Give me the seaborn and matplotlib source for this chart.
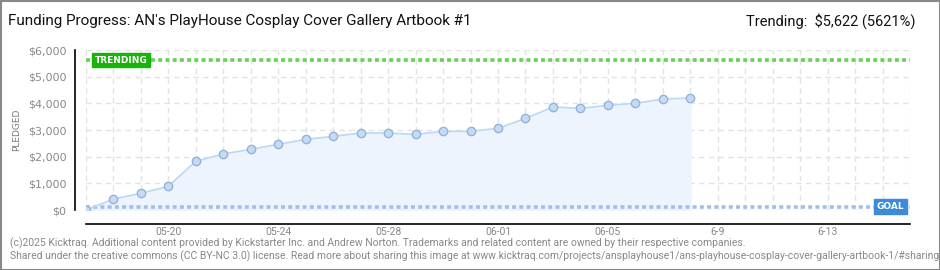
import matplotlib
matplotlib.use("Agg")
import matplotlib.pyplot as plt
import matplotlib.dates as mdates
import matplotlib.patches as mpatches
from matplotlib.ticker import MultipleLocator, FuncFormatter
import seaborn as sns
import pandas as pd

# ---- data ----
dates = ["2025-05-17", "2025-05-18", "2025-05-19", "2025-05-20", "2025-05-21", "2025-05-22",
         "2025-05-23", "2025-05-24", "2025-05-25", "2025-05-26", "2025-05-27", "2025-05-28",
         "2025-05-29", "2025-05-30", "2025-05-31", "2025-06-01", "2025-06-02", "2025-06-03",
         "2025-06-04", "2025-06-05", "2025-06-06", "2025-06-07", "2025-06-08"]
pledged = [0, 412, 625, 887, 1825, 2100, 2275, 2462, 2650, 2762, 2887, 2887, 2837, 2950,
           2950, 3062, 3437, 3862, 3812, 3925, 4000, 4162, 4200]
campaign_start = "2025-05-17"
campaign_end = "2025-06-16"
tick_label_dates = ["2025-05-20", "2025-05-24", "2025-05-28", "2025-06-01", "2025-06-05",
                    "2025-06-09", "2025-06-13"]
tick_labels = ["05-20", "05-24", "05-28", "06-01", "06-05", "6-9", "6-13"]
trending = 5622
goal = 100
title = "Funding Progress: AN's PlayHouse Cosplay Cover Gallery Artbook #1"
trend_text = "Trending:  $5,622 (5621%)"
footer1 = ("(c)2025 Kicktraq. Additional content provided by Kickstarter Inc. and Andrew Norton. "
           "Trademarks and related content are owned by their respective companies.")
footer2 = ("Shared under the creative commons (CC BY-NC 3.0) license. Read more about sharing this "
           "image at www.kicktraq.com/projects/ansplayhouse1/ans-playhouse-cosplay-cover-gallery-artbook-1/#sharing")

df = pd.DataFrame({"date": pd.to_datetime(dates), "pledged": pledged})

sns.set_style("white")
plt.rcParams["font.family"] = ["DejaVu Sans"]
narrow = ["Roboto", "DejaVu Sans"]

fig = plt.figure(figsize=(9.4, 2.7), dpi=100)
ax = fig.add_axes([85.7 / 940, 60 / 270, 824.6 / 940, 160 / 270])

# grid
ax.set_axisbelow(True)
ax.grid(True, which="major", axis="both", color="#e3e3e3", linestyle=(0, (4, 3)), linewidth=1)

# fill + line
ax.fill_between(df["date"], df["pledged"], 0, color="#edf4fd", zorder=1)
sns.lineplot(data=df, x="date", y="pledged", ax=ax, color="#bcd8f4", linewidth=1.2,
             marker="o", markersize=6, markerfacecolor="#c3dbf6", markeredgecolor="#97b3d3",
             markeredgewidth=1, zorder=3)

# trending + goal lines
ax.axhline(trending, color="#66d155", linewidth=2.6, linestyle=(0, (1.1, 0.9)), zorder=2)
ax.axhline(goal, color="#9ec0eb", linewidth=2.6, linestyle=(0, (1.1, 0.9)), zorder=2)

ax.text(0.011, trending, "TRENDING", transform=ax.get_yaxis_transform(), ha="left", va="center",
        color="white", fontsize=6.5, fontweight="bold", zorder=5,
        bbox=dict(boxstyle="square,pad=0.3", fc="#19b30c", ec="#19b30c"))
ax.text(0.9925, goal + 30, "GOAL", transform=ax.get_yaxis_transform(), ha="right", va="center",
        color="white", fontsize=6.5, fontweight="bold", zorder=5,
        bbox=dict(boxstyle="square,pad=0.3", fc="#3d8ad8", ec="#3d8ad8"))

# axes limits & ticks
ax.set_xlim(pd.Timestamp(campaign_start), pd.Timestamp(campaign_end))
ax.set_ylim(0, 6000)
ax.xaxis.set_major_locator(mdates.DayLocator())
ax.xaxis.set_major_formatter(FuncFormatter(lambda v, p: ""))
for d, lab in zip(tick_label_dates, tick_labels):
    ax.text(mdates.date2num(pd.Timestamp(d)), -0.1375, lab, transform=ax.get_xaxis_transform(),
            ha="center", va="center", fontsize=7.5, color="#888888", family=narrow)

ax.yaxis.set_major_locator(MultipleLocator(1000))
ax.yaxis.set_minor_locator(MultipleLocator(500))
ax.yaxis.set_major_formatter(FuncFormatter(lambda v, p: f"${int(v):,}"))
ax.tick_params(axis="y", which="major", direction="out", length=4, width=1, color="black",
               labelsize=8, labelcolor="#888888", pad=2)
ax.tick_params(axis="y", which="minor", direction="out", length=3, width=1, color="#dd0000")
ax.tick_params(axis="x", which="major", direction="inout", length=6, width=1, color="black")
ax.set_xlabel("")
ax.set_ylabel("PLEDGED", fontsize=6.5, color="#777777", labelpad=5)

for s in ["top", "right"]:
    ax.spines[s].set_visible(False)
ax.spines["left"].set_position(("outward", 8))
ax.spines["bottom"].set_position(("outward", 10))
ax.spines["left"].set_color("black")
ax.spines["bottom"].set_color("black")
ax.spines["left"].set_linewidth(1.2)
ax.spines["bottom"].set_linewidth(1.2)

# titles
fig.text(8 / 940, 1 - 21 / 270, title, ha="left", va="center", fontsize=11, color="#111111",
         family=narrow)
fig.text(916 / 940, 1 - 21 / 270, trend_text, ha="right", va="center", fontsize=10.5,
         color="#111111", family=narrow)

# footer
fig.text(10 / 940, 1 - 243 / 270, footer1, ha="left", va="center", fontsize=7.5, color="#888888",
         family=narrow)
fig.text(10 / 940, 1 - 256 / 270, footer2, ha="left", va="center", fontsize=7.5, color="#888888",
         family=narrow)

# frame
fig.patches.append(mpatches.Rectangle((0.5 / 940, 0.5 / 270), 939 / 940, 269 / 270,
                                      transform=fig.transFigure, fill=False,
                                      edgecolor="#888888", linewidth=1.5))

fig.savefig("out.png", dpi=100)
